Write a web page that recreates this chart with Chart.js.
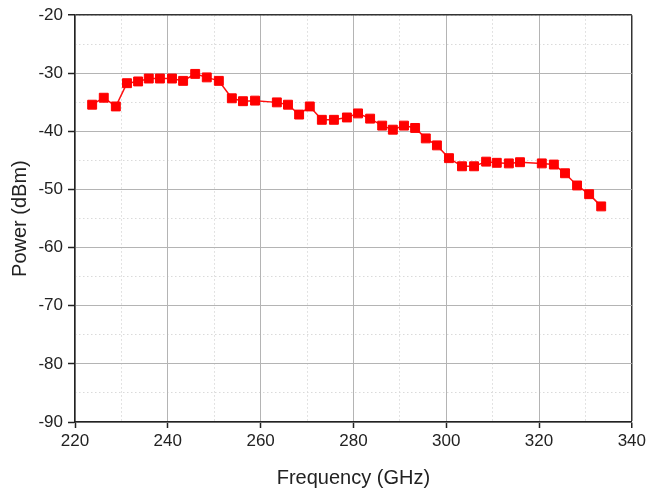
<!DOCTYPE html>
<html>
<head>
<meta charset="utf-8">
<script src="https://cdn.jsdelivr.net/npm/chart.js@4"></script>
<style>
html,body{margin:0;padding:0;background:#fff;}
#wrap{position:relative;width:649px;height:493px;}
</style>
</head>
<body>
<div id="wrap"><canvas id="c" width="649" height="493"></canvas></div>
<script>
const frequencyGHz = [223.7, 226.2, 228.8, 231.2, 233.6, 235.9, 238.3, 240.9, 243.3, 245.9,
  248.4, 251.0, 253.8, 256.2, 258.8, 263.5, 265.9, 268.3, 270.6, 273.2,
  275.8, 278.6, 281.0, 283.6, 286.2, 288.5, 290.9, 293.3, 295.6, 298.0,
  300.6, 303.4, 306.0, 308.6, 310.9, 313.5, 315.9, 320.6, 323.2, 325.6,
  328.2, 330.8, 333.4];
const powerDBm = [-35.4, -34.2, -35.7, -31.7, -31.4, -30.9, -30.9, -30.9, -31.3, -30.1,
  -30.7, -31.3, -34.3, -34.8, -34.7, -35.0, -35.4, -37.1, -35.7, -38.0,
  -38.0, -37.6, -36.9, -37.8, -39.0, -39.7, -39.0, -39.4, -41.2, -42.4,
  -44.6, -46.0, -46.0, -45.2, -45.4, -45.5, -45.3, -45.5, -45.7, -47.2,
  -49.3, -50.8, -52.9];
const xTicks = [220, 240, 260, 280, 300, 320, 340];
const yTicks = [-20, -30, -40, -50, -60, -70, -80, -90];
const xLabel = 'Frequency (GHz)';
const yLabel = 'Power (dBm)';

const FONT = "'Liberation Sans', Arial, sans-serif";
const points = frequencyGHz.map((f, i) => ({x: f, y: powerDBm[i]}));

new Chart(document.getElementById('c'), {
  type: 'line',
  data: {
    datasets: [{
      data: points,
      borderColor: '#ff1010',
      backgroundColor: '#ff0000',
      borderWidth: 1.5,
      pointStyle: 'rect',
      pointRadius: 6.3,
      pointBorderWidth: 1,
      pointBorderColor: '#ff0000',
      pointBackgroundColor: '#ff0000',
      tension: 0
    }]
  },
  options: {
    responsive: false,
    animation: false,
    layout: {padding: {top: 14, right: 16, left: 0, bottom: 0}},
    plugins: {legend: {display: false}, tooltip: {enabled: false}},
    scales: {
      xMinor: {
        type: 'linear', position: 'bottom', min: 220, max: 340,
        ticks: {display: false, stepSize: 10},
        grid: {color: '#dadada', lineWidth: 1, drawTicks: false},
        border: {display: false, dash: [1.5, 2.5]},
        afterFit: s => { s.height = 0; }
      },
      yMinor: {
        type: 'linear', position: 'left', min: -90, max: -20,
        ticks: {display: false, stepSize: 5},
        grid: {color: '#dadada', lineWidth: 1, drawTicks: false},
        border: {display: false, dash: [1.5, 2.5]},
        afterFit: s => { s.width = 0; }
      },
      x: {
        type: 'linear', position: 'bottom', min: 220, max: 340,
        afterBuildTicks: s => { s.ticks = xTicks.map(v => ({value: v})); },
        ticks: {color: '#222', font: {family: FONT, size: 17}, padding: 3, maxRotation: 0},
        grid: {
          color: c => (c.tick && c.tick.value === 340) ? '#333' : '#b4b4b4',
          lineWidth: c => (c.tick && c.tick.value === 340) ? 1.5 : 1,
          tickColor: '#222', tickLength: 6, tickWidth: 1.5
        },
        border: {color: '#222', width: 1.5},
        title: {display: true, text: xLabel, color: '#222', font: {family: FONT, size: 20}, padding: {top: 10, bottom: 3}},
        afterFit: s => { s.height = 71; }
      },
      y: {
        type: 'linear', position: 'left', min: -90, max: -20,
        afterBuildTicks: s => { s.ticks = yTicks.slice().reverse().map(v => ({value: v})); },
        ticks: {color: '#222', font: {family: FONT, size: 17}, padding: 5},
        grid: {
          color: c => (c.tick && c.tick.value === -20) ? '#333' : '#b4b4b4',
          lineWidth: c => (c.tick && c.tick.value === -20) ? 1.5 : 1,
          tickColor: '#222', tickLength: 7, tickWidth: 1.5
        },
        border: {color: '#222', width: 1.5},
        title: {display: true, text: yLabel, color: '#222', font: {family: FONT, size: 20}, padding: {top: 8, bottom: 4}},
        afterFit: s => { s.width = 75; }
      }
    }
  }
});
</script>
</body>
</html>
